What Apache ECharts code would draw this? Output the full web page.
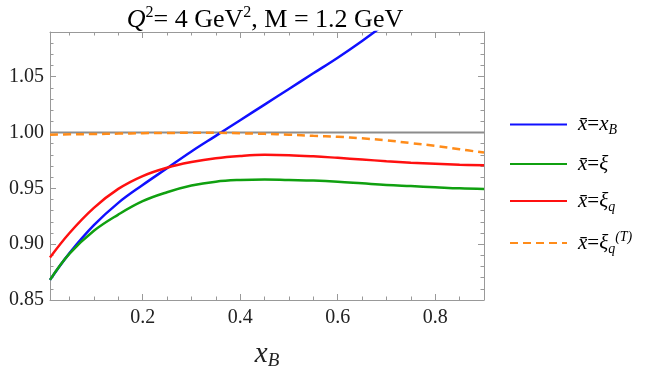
<!DOCTYPE html>
<html>
<head>
<meta charset="UTF-8">
<title>xbar ratio</title>
<script src="https://cdn.jsdelivr.net/npm/echarts@6/dist/echarts.min.js"></script>
<style>
  body { margin: 0; background: #fff; }
  #chart { width: 652px; height: 375px; }
</style>
</head>
<body>
<div id="chart"></div>
<script>
// values
var xGrid = [0.01, 0.05, 0.1, 0.15, 0.2, 0.25, 0.3, 0.35, 0.4, 0.45,
             0.5, 0.55, 0.6, 0.65, 0.7, 0.75, 0.8, 0.85, 0.9];
var xBlue = [0.01, 0.05, 0.1, 0.15, 0.2, 0.25, 0.3, 0.35, 0.4, 0.45,
             0.5, 0.55, 0.6, 0.65, 0.7];
var yXB  = [0.868, 0.892, 0.917, 0.937, 0.953, 0.968, 0.983, 0.997, 1.011, 1.025,
            1.039, 1.053, 1.067, 1.082, 1.098];
var yXi  = [0.868, 0.8915, 0.912, 0.9265, 0.9385, 0.9465, 0.9525, 0.956, 0.9575, 0.958,
            0.9575, 0.957, 0.956, 0.9545, 0.953, 0.952, 0.951, 0.950, 0.9495];
var yXiq = [0.888, 0.910, 0.9325, 0.9495, 0.961, 0.9685, 0.9735, 0.977, 0.979, 0.980,
            0.9797, 0.9787, 0.9773, 0.9758, 0.9743, 0.973, 0.972, 0.9712, 0.9706];
var yXiqT = [0.998, 0.9984, 0.9986, 0.999, 0.9994, 0.9996, 0.9997, 0.9997, 0.9993, 0.9988,
             0.998, 0.997, 0.9962, 0.9948, 0.993, 0.9905, 0.988, 0.985, 0.982];

function zip(xs, ys) {
  return xs.map(function (x, i) { return [x, ys[i]]; });
}

var serif = '"Liberation Serif", "DejaVu Serif", serif';
var frameColor = '#999';

var chart = echarts.init(document.getElementById('chart'));

function axisCommon(extra) {
  var base = {
    axisLine: { show: true, onZero: false, lineStyle: { color: frameColor, width: 1 } },
    axisTick: { show: true, inside: true, length: 6, lineStyle: { color: frameColor } },
    splitLine: { show: false },
    minorSplitLine: { show: false }
  };
  return Object.assign(base, extra);
}

var labelRich = {
  i: { fontFamily: serif, fontStyle: 'italic', fontSize: 21, color: '#000', lineHeight: 26, verticalAlign: 'middle' },
  n: { fontFamily: serif, fontSize: 21, color: '#000', lineHeight: 26, verticalAlign: 'middle' },
  sub: { fontFamily: serif, fontStyle: 'italic', fontSize: 14, color: '#000', lineHeight: 13, verticalAlign: 'bottom' },
  sup: { fontFamily: serif, fontStyle: 'italic', fontSize: 14, color: '#000', lineHeight: 13, verticalAlign: 'top' }
};

var legendText = {
  'xB': '{i|x\u0304}{n|=}{i|x}{sub|B}',
  'xi': '{i|x\u0304}{n|=}{i|\u03BE}',
  'xiq': '{i|x\u0304}{n|=}{i|\u03BE}{sub|q}',
  'xiqT': '{i|x\u0304}{n|=}{i|\u03BE}{sub|q}{sup|(T)}'
};

chart.setOption({
  animation: false,
  grid: { left: 50, right: 168, top: 32, bottom: 75 },
  graphic: [{
    type: 'text',
    x: 265, y: 20,
    style: {
      text: '{i|Q}{s|2}{n|= 4 GeV}{s|2}{n|, M = 1.2 GeV}',
      align: 'center', verticalAlign: 'middle',
      rich: {
        i: { fontFamily: serif, fontStyle: 'italic', fontSize: 26, fill: '#000', lineHeight: 30, verticalAlign: 'middle' },
        n: { fontFamily: serif, fontSize: 26, fill: '#000', lineHeight: 30, verticalAlign: 'middle' },
        s: { fontFamily: serif, fontSize: 16, fill: '#000', lineHeight: 16, verticalAlign: 'top' }
      }
    }
  }],
  legend: {
    orient: 'vertical',
    left: 509, top: 114,
    padding: 0,
    itemWidth: 57, itemHeight: 14,
    itemGap: 16,
    data: ['xB', 'xi', 'xiq', 'xiqT'],
    itemStyle: { opacity: 0 },
    formatter: function (name) { return legendText[name]; },
    textStyle: { padding: [0, 0, 0, 6], rich: labelRich }
  },
  xAxis: [
    axisCommon({
      type: 'value', position: 'bottom', min: 0.01, max: 0.9, splitNumber: 5,
      minorTick: { show: true, splitNumber: 4, length: 3.5, lineStyle: { color: frameColor } },
      axisLabel: {
        fontFamily: serif, fontSize: 20, color: '#222', margin: 8,
        showMinLabel: false, showMaxLabel: false,
        formatter: function (v) { return v.toFixed(1); }
      },
      name: '{x|x}{b|B}',
      nameLocation: 'middle', nameGap: 38,
      nameTextStyle: {
        rich: {
          x: { fontFamily: serif, fontStyle: 'italic', fontSize: 29, color: '#222', lineHeight: 32, verticalAlign: 'middle' },
          b: { fontFamily: serif, fontStyle: 'italic', fontSize: 19, color: '#222', lineHeight: 18, verticalAlign: 'bottom' }
        }
      }
    }),
    axisCommon({
      type: 'value', position: 'top', min: 0.01, max: 0.9, splitNumber: 5,
      minorTick: { show: true, splitNumber: 4, length: 3.5, lineStyle: { color: frameColor } },
      axisLabel: { show: false }
    })
  ],
  yAxis: [
    axisCommon({
      type: 'value', position: 'left', min: 0.85, max: 1.09, interval: 0.05,
      minorTick: { show: true, splitNumber: 5, length: 3.5, lineStyle: { color: frameColor } },
      axisLabel: {
        fontFamily: serif, fontSize: 20, color: '#222', margin: 6,
        showMaxLabel: false,
        formatter: function (v) { return v.toFixed(2); }
      }
    }),
    axisCommon({
      type: 'value', position: 'right', min: 0.85, max: 1.09, interval: 0.05,
      minorTick: { show: true, splitNumber: 5, length: 3.5, lineStyle: { color: frameColor } },
      axisLabel: { show: false }
    })
  ],
  series: [
    {
      name: 'one', type: 'line', symbol: 'none', silent: true,
      data: [[0.01, 1.0], [0.9, 1.0]],
      lineStyle: { color: '#8c8c8c', width: 1.8 }
    },
    {
      name: 'xB', type: 'line', symbol: 'none', smooth: 0.4,
      data: zip(xBlue, yXB),
      itemStyle: { color: '#1010ff' },
      lineStyle: { color: '#1010ff', width: 2.5 }
    },
    {
      name: 'xi', type: 'line', symbol: 'none', smooth: 0.4,
      data: zip(xGrid, yXi),
      itemStyle: { color: '#10a010' },
      lineStyle: { color: '#10a010', width: 2.5 }
    },
    {
      name: 'xiq', type: 'line', symbol: 'none', smooth: 0.4,
      data: zip(xGrid, yXiq),
      itemStyle: { color: '#ff1010' },
      lineStyle: { color: '#ff1010', width: 2.5 }
    },
    {
      name: 'xiqT', type: 'line', symbol: 'none', smooth: 0.4,
      data: zip(xGrid, yXiqT),
      itemStyle: { color: '#ff8c1a' },
      lineStyle: { color: '#ff8c1a', width: 2.5, type: [8, 5] }
    }
  ]
});
</script>
</body>
</html>
